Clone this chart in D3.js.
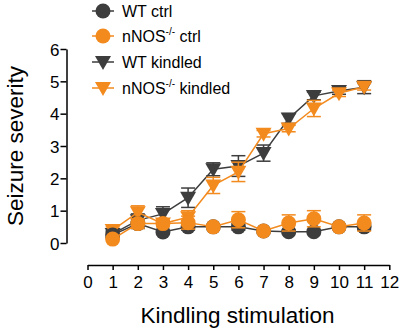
<!DOCTYPE html>
<html>
<head>
<meta charset="utf-8">
<script src="https://cdn.jsdelivr.net/npm/d3@7"></script>
<style>
body { margin: 0; background: #fff; }
svg { font-family: Arial, "Liberation Sans", sans-serif; }
</style>
</head>
<body>
<div id="chart"></div>
<script>
// données
const stimulations = [1, 2, 3, 4, 5, 6, 7, 8, 9, 10, 11];
const xTicks = [0, 1, 2, 3, 4, 5, 6, 7, 8, 9, 10, 11, 12];
const yTicks = [0, 1, 2, 3, 4, 5, 6];

const wtCtrl = [0.25, 0.6, 0.34, 0.5, 0.5, 0.5, 0.37, 0.35, 0.35, 0.5, 0.5];
const wtCtrlErr = [0.1, 0.15, 0, 0.1, 0, 0.1, 0, 0.05, 0.05, 0, 0.1];
const nnosCtrl = [0.12, 0.6, 0.6, 0.63, 0.5, 0.72, 0.37, 0.62, 0.75, 0.5, 0.62];
const nnosCtrlErr = [0, 0.15, 0, 0.2, 0, 0.25, 0, 0.25, 0.25, 0, 0.25];
const wtKindled = [0.28, 0.7, 0.9, 1.4, 2.28, 2.38, 2.78, 3.85, 4.55, 4.7, 4.82];
const wtKindledErr = [0.1, 0.2, 0.22, 0.3, 0.2, 0.32, 0.25, 0.15, 0.12, 0.1, 0.2];
const nnosKindled = [0.4, 0.95, 0.6, 0.8, 1.78, 2.2, 3.38, 3.54, 4.16, 4.63, 4.83];
const nnosKindledErr = [0.1, 0.2, 0.1, 0.2, 0.25, 0.3, 0.1, 0.1, 0.25, 0.1, 0.1];

const gris = '#3d3d3d';
const orange = '#f28a1e';

const width = 403, height = 332;
const svg = d3.select('#chart').append('svg')
  .attr('width', width).attr('height', height);

const x = d3.scaleLinear().domain([0, 12]).range([87.5, 389.3]);
const y = d3.scaleLinear().domain([0, 6]).range([243, 49]);

// axe Y
const axeY = svg.append('g')
  .attr('transform', 'translate(66.5,0)')
  .call(d3.axisLeft(y).tickValues(yTicks).tickFormat(d3.format('d')).tickSize(6).tickSizeOuter(0));
axeY.select('.domain').attr('stroke', '#000').attr('stroke-width', 1.5);
axeY.selectAll('.tick line').attr('stroke', '#000').attr('stroke-width', 1.5);
axeY.selectAll('text').attr('font-size', 17).attr('fill', '#000').attr('x', -7).attr('dy', '0.36em');

// axe X
const axeX = svg.append('g')
  .attr('transform', 'translate(0,265)')
  .call(d3.axisBottom(x).tickValues(xTicks).tickFormat(d3.format('d')).tickSize(5).tickSizeOuter(0));
axeX.select('.domain').attr('stroke', '#000').attr('stroke-width', 1.5);
axeX.selectAll('.tick line').attr('stroke', '#000').attr('stroke-width', 1.5);
axeX.selectAll('text').attr('font-size', 17).attr('fill', '#000').attr('y', 23).attr('dy', 0);

// titres d'axes
svg.append('text')
  .attr('x', 237.5).attr('y', 323)
  .attr('text-anchor', 'middle')
  .attr('font-size', 22.5)
  .text('Kindling stimulation');

svg.append('text')
  .attr('transform', 'translate(23,146) rotate(-90)')
  .attr('text-anchor', 'middle')
  .attr('font-size', 22.5)
  .text('Seizure severity');

// séries
const series = [
  {name: 'WT kindled', vals: wtKindled, err: wtKindledErr, color: gris, shape: 'tri'},
  {name: 'nNOS kindled', vals: nnosKindled, err: nnosKindledErr, color: orange, shape: 'tri'},
  {name: 'WT ctrl', vals: wtCtrl, err: wtCtrlErr, color: gris, shape: 'circle'},
  {name: 'nNOS ctrl', vals: nnosCtrl, err: nnosCtrlErr, color: orange, shape: 'circle'}
];

const triangle = 'M-8,-6L8,-6L0,8Z';

function marker(g, s) {
  if (s.shape === 'circle') {
    g.append('circle').attr('r', 7.5).attr('fill', s.color);
  } else {
    g.append('path').attr('d', triangle).attr('fill', s.color);
  }
}

series.forEach(s => {
  const pts = stimulations.map((k, i) => ({k: k, v: s.vals[i], e: s.err[i]}));
  const g = svg.append('g');

  // barres d'erreur
  pts.forEach(p => {
    if (p.e <= 0) return;
    const eb = g.append('g').attr('stroke', s.color).attr('stroke-width', 1.5);
    eb.append('line').attr('x1', x(p.k)).attr('x2', x(p.k)).attr('y1', y(p.v - p.e)).attr('y2', y(p.v + p.e));
    eb.append('line').attr('x1', x(p.k) - 7).attr('x2', x(p.k) + 7).attr('y1', y(p.v + p.e)).attr('y2', y(p.v + p.e));
    eb.append('line').attr('x1', x(p.k) - 7).attr('x2', x(p.k) + 7).attr('y1', y(p.v - p.e)).attr('y2', y(p.v - p.e));
  });

  g.append('path')
    .datum(pts)
    .attr('fill', 'none')
    .attr('stroke', s.color)
    .attr('stroke-width', 1.5)
    .attr('d', d3.line().x(d => x(d.k)).y(d => y(d.v)));

  pts.forEach(p => {
    const m = g.append('g').attr('transform', `translate(${x(p.k)},${y(p.v)})`);
    marker(m, s);
  });
});

// légende
const legende = [
  {label: 'WT ctrl', sup: null, color: gris, shape: 'circle', y: 11},
  {label: 'nNOS', sup: '-/-', rest: ' ctrl', color: orange, shape: 'circle', y: 36},
  {label: 'WT kindled', sup: null, color: gris, shape: 'tri', y: 62},
  {label: 'nNOS', sup: '-/-', rest: ' kindled', color: orange, shape: 'tri', y: 88}
];

legende.forEach(l => {
  const g = svg.append('g').attr('transform', `translate(103,${l.y})`);
  g.append('line').attr('x1', -11).attr('x2', 11).attr('stroke', l.color).attr('stroke-width', 1.5);
  marker(g, l);
  const t = g.append('text').attr('x', 19).attr('y', 5.5).attr('font-size', 16);
  t.append('tspan').text(l.label);
  if (l.sup) {
    t.append('tspan').attr('font-size', 10).attr('dy', -7).text(l.sup);
    t.append('tspan').attr('dy', 7).text(l.rest);
  }
});
</script>
</body>
</html>
